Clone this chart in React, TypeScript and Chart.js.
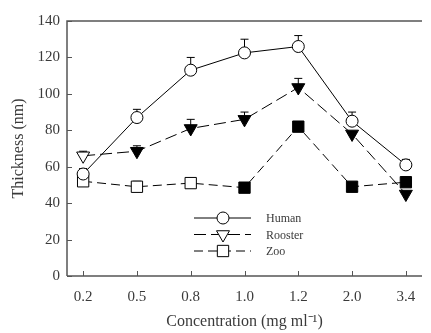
import React, { useEffect, useRef } from "react";
import { Chart, registerables } from "chart.js";

Chart.register(...registerables);

const categories = ["0.2", "0.5", "0.8", "1.0", "1.2", "2.0", "3.4"];
const humanValues = [56, 87, 113, 122.5, 126, 85, 61];
const humanErrors = [3, 4.5, 7, 7.5, 6, 5, 3];
const roosterValues = [66, 68.5, 81, 86, 103.5, 78, 45];
const roosterErrors = [2.5, 3, 5, 4, 5, 0, 0];
const zooValues = [52, 49, 51, 48.5, 82, 49, 51.5];
const zooErrors = [0, 3, 0, 0, 0, 0, 3];
const roosterFill = ["#ffffff", "#000000", "#000000", "#000000", "#000000", "#000000", "#000000"];
const zooFill = ["#ffffff", "#ffffff", "#ffffff", "#000000", "#000000", "#000000", "#000000"];
const yTicks = [0, 20, 40, 60, 80, 100, 120, 140];

const FONT = "'Liberation Serif', 'Times New Roman', serif";
const AXIS = "#555555";
const TEXT = "#3a3a3a";

function drawPoint(ctx: CanvasRenderingContext2D, style: string, r: number, rot: number, x: number, y: number) {
  ctx.save();
  ctx.fillStyle = "#fff";
  ctx.strokeStyle = "#000";
  ctx.lineWidth = 1;
  ctx.beginPath();
  if (style === "circle") {
    ctx.arc(x, y, r, 0, Math.PI * 2);
  } else if (style === "rect") {
    const s = Math.SQRT1_2 * r;
    ctx.rect(x - s, y - s, 2 * s, 2 * s);
  } else {
    const rad = (rot * Math.PI) / 180;
    for (let k = 0; k < 3; k++) {
      const ang = rad + (k * 2 * Math.PI) / 3;
      const px = x + Math.sin(ang) * r;
      const py = y - Math.cos(ang) * r;
      if (k === 0) ctx.moveTo(px, py);
      else ctx.lineTo(px, py);
    }
    ctx.closePath();
  }
  ctx.fill();
  ctx.stroke();
  ctx.restore();
}

const errorBarPlugin = {
  id: "errorBars",
  beforeDatasetsDraw(chart: any) {
    const ctx = chart.ctx;
    const ys = chart.scales.y;
    chart.data.datasets.forEach((ds: any, di: number) => {
      const meta = chart.getDatasetMeta(di);
      const errs = ds.errors || [];
      meta.data.forEach((pt: any, i: number) => {
        const e = errs[i];
        if (!e) return;
        const yTop = ys.getPixelForValue(ds.data[i].y + e);
        ctx.save();
        ctx.strokeStyle = "#000";
        ctx.lineWidth = 1;
        ctx.beginPath();
        ctx.moveTo(pt.x, pt.y);
        ctx.lineTo(pt.x, yTop);
        ctx.moveTo(pt.x - 4, yTop);
        ctx.lineTo(pt.x + 4, yTop);
        ctx.stroke();
        ctx.restore();
      });
    });
  },
};

const framePlugin = {
  id: "frame",
  afterDraw(chart: any) {
    const ctx = chart.ctx;
    const a = chart.chartArea;
    const xs = chart.scales.x;
    const ys = chart.scales.y;
    ctx.save();
    ctx.strokeStyle = AXIS;
    ctx.lineWidth = 1.5;
    ctx.beginPath();
    ctx.moveTo(a.left, a.bottom);
    ctx.lineTo(a.left, a.top);
    ctx.lineTo(a.right, a.top);
    ctx.moveTo(a.left, a.bottom);
    ctx.lineTo(a.right, a.bottom);
    ctx.stroke();
    ctx.lineWidth = 1;
    ctx.beginPath();
    categories.forEach((_, i) => {
      const x = Math.round(xs.getPixelForValue(i)) + 0.5;
      ctx.moveTo(x, a.bottom);
      ctx.lineTo(x, a.bottom - 5);
    });
    yTicks.forEach((v) => {
      const y = Math.round(ys.getPixelForValue(v)) + 0.5;
      ctx.moveTo(a.left, y);
      ctx.lineTo(a.left + 5, y);
    });
    ctx.stroke();

    // legend
    const items = [
      { label: "Human", dash: [], style: "circle", r: 6, rot: 0 },
      { label: "Rooster", dash: [12, 5], style: "triangle", r: 7.5, rot: 180 },
      { label: "Zoo", dash: [9, 5], style: "rect", r: 8, rot: 0 },
    ];
    const lx0 = a.left + 127;
    const lx1 = a.left + 184;
    const mx = a.left + 156;
    const tx = a.left + 199;
    items.forEach((it, i) => {
      const y = a.top + 197 + i * 16.5;
      ctx.strokeStyle = "#000";
      ctx.lineWidth = 1;
      ctx.setLineDash(it.dash);
      ctx.beginPath();
      ctx.moveTo(lx0, y);
      ctx.lineTo(lx1, y);
      ctx.stroke();
      ctx.setLineDash([]);
      drawPoint(ctx, it.style, it.r, it.rot, mx, y);
      ctx.fillStyle = TEXT;
      ctx.font = `12px ${FONT}`;
      ctx.textAlign = "left";
      ctx.textBaseline = "middle";
      ctx.fillText(it.label, tx, y + 1);
    });
    ctx.restore();
  },
};

function toPoints(vals: number[]) {
  return vals.map((v, i) => ({ x: i, y: v }));
}

export default function App() {
  const ref = useRef<HTMLCanvasElement>(null);
  useEffect(() => {
    document.body.style.margin = "0";
    const chart = new Chart(ref.current as HTMLCanvasElement, {
      type: "line",
      data: {
        datasets: [
          {
            label: "Human",
            data: toPoints(humanValues),
            errors: humanErrors,
            borderColor: "#000",
            borderWidth: 1,
            pointStyle: "circle",
            pointRadius: 6,
            pointBackgroundColor: "#fff",
            pointBorderColor: "#000",
            pointBorderWidth: 1,
            tension: 0,
          } as any,
          {
            label: "Rooster",
            data: toPoints(roosterValues),
            errors: roosterErrors,
            borderColor: "#000",
            borderWidth: 1,
            borderDash: [12, 5],
            pointStyle: "triangle",
            rotation: 180,
            pointRadius: 7.5,
            pointBackgroundColor: roosterFill,
            pointBorderColor: "#000",
            pointBorderWidth: 1,
            tension: 0,
          } as any,
          {
            label: "Zoo",
            data: toPoints(zooValues),
            errors: zooErrors,
            borderColor: "#000",
            borderWidth: 1,
            borderDash: [9, 5],
            pointStyle: "rect",
            pointRadius: 8,
            pointBackgroundColor: zooFill,
            pointBorderColor: "#000",
            pointBorderWidth: 1,
            tension: 0,
          } as any,
        ],
      },
      options: {
        animation: false,
        responsive: false,
        layout: { padding: { top: 21, right: 0, left: 0, bottom: 0 } },
        plugins: { legend: { display: false }, tooltip: { enabled: false } },
        scales: {
          x: {
            type: "linear",
            min: -0.3,
            max: 6.3,
            afterBuildTicks: (s: any) => {
              s.ticks = categories.map((_, i) => ({ value: i }));
            },
            afterFit: (s: any) => {
              s.height = 57;
            },
            ticks: {
              callback: (v: any) => categories[v] ?? "",
              font: { family: FONT, size: 15 },
              color: TEXT,
              padding: 12,
              maxRotation: 0,
              autoSkip: false,
            },
            grid: { display: false, drawTicks: false },
            border: { display: false },
            title: {
              display: true,
              text: "Concentration (mg ml\u207B\u00B9)",
              font: { family: FONT, size: 16 },
              color: TEXT,
              padding: { top: 4, bottom: 2 },
            },
          },
          y: {
            min: 0,
            max: 140,
            afterBuildTicks: (s: any) => {
              s.ticks = yTicks.map((v) => ({ value: v }));
            },
            afterFit: (s: any) => {
              s.width = 67;
            },
            ticks: {
              font: { family: FONT, size: 15 },
              color: TEXT,
              padding: 7,
            },
            grid: { display: false, drawTicks: false },
            border: { display: false },
            title: {
              display: true,
              text: "Thickness (nm)",
              font: { family: FONT, size: 16 },
              color: TEXT,
              padding: { top: 9, bottom: 4 },
            },
          },
        },
      } as any,
      plugins: [errorBarPlugin, framePlugin],
    });
    return () => chart.destroy();
  }, []);
  return <canvas ref={ref} width={431} height={333} style={{ display: "block" }} />;
}
